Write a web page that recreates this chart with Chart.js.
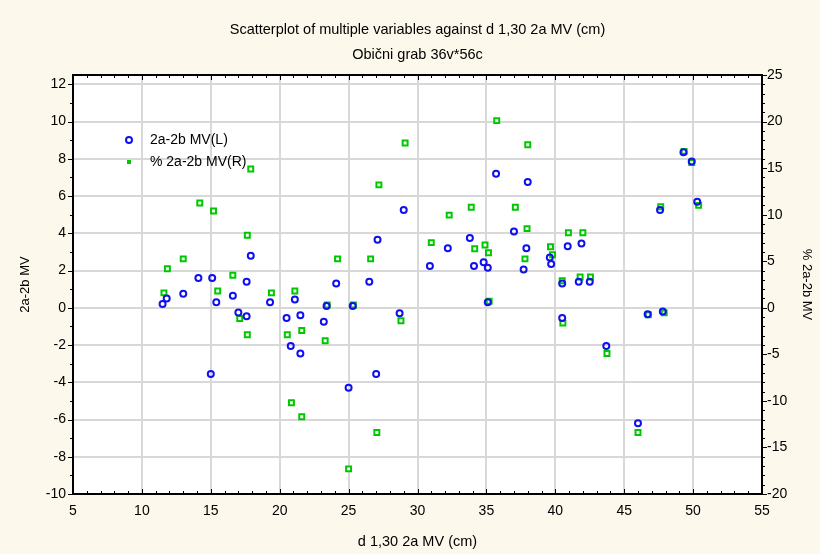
<!DOCTYPE html>
<html>
<head>
<meta charset="utf-8">
<script src="https://cdn.jsdelivr.net/npm/chart.js@4.4.0/dist/chart.umd.min.js"></script>
<style>
  html, body { margin: 0; padding: 0; background: #fdf8ec; }
  canvas { display: block; }
</style>
</head>
<body>
<canvas id="myChart" width="820" height="554"></canvas>
<script>
const ctx = document.getElementById('myChart');

// 2a-2b MV (left axis) against d 1,30
var diamL = [11.5, 11.8, 13.0, 14.1, 15.1, 15.4, 15.0, 16.6, 17.6, 17.0, 17.6, 17.9, 19.3, 20.5,
  21.1, 20.8, 21.5, 21.5, 24.1, 23.4, 23.2, 26.5, 25.3, 28.7, 27.0, 25.0, 30.9, 34.1, 34.8, 35.1,
  35.1, 37.7, 29.0, 27.1, 35.7, 33.8, 32.2, 38.0, 37.0, 37.9, 39.6, 39.7, 40.9, 41.9, 49.3, 49.9,
  47.6, 50.3, 40.5, 41.7, 42.5, 40.5, 43.7, 46.7, 47.8, 46.0]
var diffL = [0.2, 0.5, 0.75, 1.6, 1.6, 0.3, -3.55, 0.65, 1.4, -0.25, -0.45, 2.8, 0.3, -0.55,
  0.45, -2.05, -0.4, -2.45, 1.3, 0.1, -0.75, 1.4, 0.1, -0.3, -3.55, -4.3, 2.25, 2.25, 2.45, 2.15,
  0.3, 2.05, 5.25, 3.65, 7.2, 3.75, 3.2, 6.75, 4.1, 3.2, 2.7, 2.35, 3.3, 3.45, 8.35, 7.85,
  5.25, 5.7, 1.3, 1.4, 1.4, -0.55, -2.05, -0.35, -0.2, -6.2]

// % 2a-2b MV (right axis)
var diamR = [17.9, 14.2, 15.2, 17.65, 13.0, 11.85, 16.6, 11.6, 15.5, 17.1, 17.65, 19.4, 21.1, 20.55,
  21.6, 20.85, 21.6, 23.45, 23.3, 25.35, 28.8, 27.05, 25.0, 24.2, 26.6, 35.2, 27.2, 29.1, 31.0,
  32.3, 33.9, 35.75, 34.9, 34.15, 35.15, 37.1, 38.0, 37.95, 37.8, 39.65, 39.8, 40.95, 42.0, 40.5,
  41.8, 42.55, 49.35, 49.9, 47.65, 50.4, 40.55, 43.75, 46.75, 47.9, 46.0]
var pctR = [14.9, 11.25, 10.4, 7.8, 5.25, 4.2, 3.5, 1.6, 1.8, -1.15, -2.9, 1.6, 1.8, -2.9,
  -2.45, -10.2, -11.7, 0.3, -3.55, 0.3, -1.4, -13.4, -17.3, 5.25, 5.25, 0.7, 13.2, 17.7, 7.0,
  9.95, 10.8, 20.1, 6.75, 6.35, 5.9, 10.8, 17.5, 8.5, 5.25, 6.55, 5.7, 8.05, 8.05, 2.9,
  3.3, 3.3, 16.8, 15.6, 10.85, 11.0, -1.65, -4.9, -0.75, -0.55, -13.4]

var seriesNames = ["2a-2b MV(L)", "% 2a-2b MV(R)"]
var titleText = "Scatterplot of multiple variables against d 1,30 2a MV (cm)"
var subtitleText = "Obični grab 36v*56c"

//helper
function toPoints(xs, ys) {
  let res = []
  for (var i = 0; i < xs.length; i++) res.push({x: xs[i], y: ys[i]})
  return res
}

const blue = "#1010ee"
const green = "#00c800"
const font = "'Liberation Sans', Arial, sans-serif"
Chart.defaults.font.family = font
Chart.defaults.color = "#000"

// white plot area, black frame, minor ticks, legend inside plot
const framePlugin = {
  id: 'frame',
  beforeDraw(chart) {
    const c = chart.ctx, a = chart.chartArea
    c.save()
    c.fillStyle = "#fdf8ec"
    c.fillRect(0, 0, chart.width, chart.height)
    c.fillStyle = "#fff"
    c.fillRect(a.left, a.top, a.right - a.left, a.bottom - a.top)
    c.restore()
  },
  afterDraw(chart) {
    const c = chart.ctx, a = chart.chartArea
    const sx = chart.scales.x, sy = chart.scales.y, sy2 = chart.scales.y2
    c.save()
    c.strokeStyle = "#000"
    c.lineWidth = 1
    c.beginPath()
    for (var v = 5; v <= 55; v++) {
      let px = Math.round(sx.getPixelForValue(v)) + 0.5
      let len = v % 5 === 0 ? 5 : 3
      c.moveTo(px, a.bottom); c.lineTo(px, a.bottom - len)
      c.moveTo(px, a.top); c.lineTo(px, a.top + len)
    }
    for (var v = -10; v <= 12; v++) {
      let py = Math.round(sy.getPixelForValue(v)) + 0.5
      let len = v % 2 === 0 ? 5 : 3
      c.moveTo(a.left, py); c.lineTo(a.left - len, py)
    }
    for (var v = -20; v <= 25; v++) {
      let py = Math.round(sy2.getPixelForValue(v)) + 0.5
      let len = v % 5 === 0 ? 5 : 3
      c.moveTo(a.right, py); c.lineTo(a.right + len, py)
    }
    c.stroke()
    c.lineWidth = 2
    c.strokeRect(a.left, a.top, a.right - a.left, a.bottom - a.top)

    // legend
    let lx = a.left + 56, ly = a.top + 65
    c.strokeStyle = blue
    c.lineWidth = 2
    c.beginPath()
    c.arc(lx, ly, 3, 0, Math.PI * 2)
    c.stroke()
    c.fillStyle = green
    c.fillRect(lx - 2, ly + 20, 4, 4)
    c.fillStyle = "#000"
    c.font = "14px " + font
    c.textBaseline = "middle"
    c.fillText(seriesNames[0], lx + 21, ly)
    c.fillText(seriesNames[1], lx + 21, ly + 22)
    c.restore()
  }
}

new Chart(ctx, {
  type: 'scatter',
  data: {
    datasets: [{
      label: seriesNames[0],
      data: toPoints(diamL, diffL),
      yAxisID: 'y',
      pointStyle: 'circle',
      pointRadius: 3,
      borderWidth: 2,
      borderColor: blue,
      backgroundColor: "rgba(255,255,255,0)"
    }, {
      label: seriesNames[1],
      data: toPoints(diamR, pctR),
      yAxisID: 'y2',
      pointStyle: 'rect',
      pointRadius: 3.5,
      borderWidth: 2,
      borderColor: green,
      backgroundColor: "#fff"
    }]
  },
  options: {
    responsive: false,
    animation: false,
    layout: { padding: 0 },
    plugins: {
      legend: { display: false },
      tooltip: { enabled: false },
      title: {
        display: true,
        fullSize: false,
        text: titleText,
        font: { size: 14.5, weight: 'normal' },
        color: "#000",
        padding: { top: 21.3, bottom: 3.8 }
      },
      subtitle: {
        display: true,
        fullSize: false,
        text: subtitleText,
        font: { size: 14.5, weight: 'normal' },
        color: "#000",
        padding: { top: 3.8, bottom: 11.3 }
      }
    },
    scales: {
      x: {
        type: 'linear',
        min: 5,
        max: 55,
        ticks: { stepSize: 5, padding: 9, font: { size: 14 }, color: "#000" },
        grid: { color: "#d8d8d8", lineWidth: 2, drawTicks: false },
        border: { display: false },
        title: {
          display: true,
          text: "d 1,30 2a MV (cm)",
          font: { size: 14.5 },
          padding: { top: 0, bottom: 3.5 }
        },
        afterFit(s) { s.height = 60 }
      },
      y: {
        position: 'left',
        min: -10,
        max: 12.5,
        ticks: { stepSize: 2, includeBounds: false, padding: 7, font: { size: 14 }, color: "#000" },
        grid: { color: "#d8d8d8", lineWidth: 2, drawTicks: false },
        border: { display: false },
        title: {
          display: true,
          text: "2a-2b MV",
          font: { size: 13 },
          padding: { top: 18, bottom: 0 }
        },
        afterFit(s) { s.width = 73 }
      },
      y2: {
        position: 'right',
        min: -20,
        max: 25,
        ticks: { stepSize: 5, padding: 5, font: { size: 14 }, color: "#000" },
        grid: { drawOnChartArea: false, drawTicks: false },
        border: { display: false },
        title: {
          display: true,
          text: "% 2a-2b MV",
          font: { size: 13 },
          padding: { top: 6, bottom: 0 }
        },
        afterFit(s) { s.width = 58 }
      }
    }
  },
  plugins: [framePlugin]
});
</script>
</body>
</html>
